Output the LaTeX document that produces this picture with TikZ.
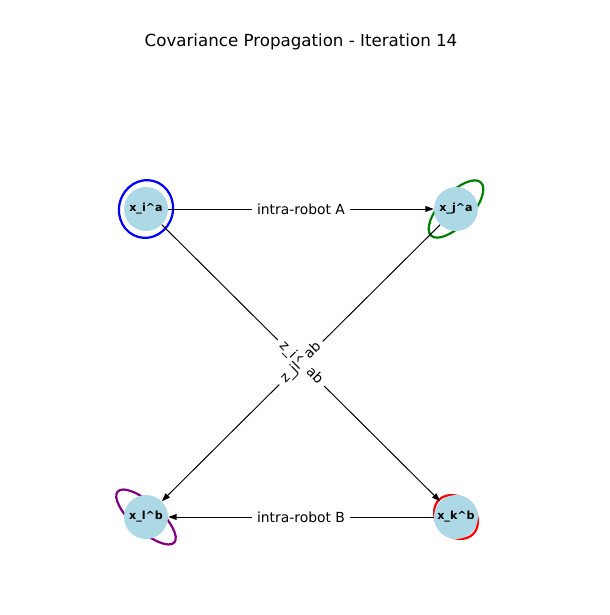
\documentclass[tikz,border=0pt]{standalone}
\usepackage{fontspec}
\setmainfont{DejaVu Sans}
\usetikzlibrary{
  arrows.meta,
  positioning
}
\definecolor{nodeblue}{RGB}{173,216,230}
\definecolor{ellgreen}{RGB}{0,128,0}
\definecolor{ellpurple}{RGB}{128,0,128}

\begin{document}
\begin{tikzpicture}[
  x=0.72pt, y=-0.72pt,
  pose-node/.style={
    circle,
    fill=nodeblue,
    minimum size=31.7pt,
    inner sep=0pt,
    font=\fontsize{8}{9}\selectfont\bfseries
  },
  cov-ellipse/.style={line width=1.6pt},
  meas-edge/.style={
    line width=0.7pt,
    -{Triangle[length=6pt,width=4.2pt]}
  },
  edge-label/.style={
    fill=white,
    inner xsep=3.6pt,
    inner ysep=2.5pt,
    font=\fontsize{10}{12}\selectfont
  }
]
\useasboundingbox (0,0) rectangle (610,615);

\coordinate (pos-i) at (146,209);
\coordinate (pos-j) at (456,209);
\coordinate (pos-k) at (456,517);
\coordinate (pos-l) at (146,517);

% covariance ellipses, below the nodes
\draw[cov-ellipse, blue, rotate=-15] (pos-i) ellipse [x radius=19.4pt, y radius=20.9pt];
\draw[cov-ellipse, ellgreen, rotate=47] (pos-j) ellipse [x radius=26.2pt, y radius=11.2pt];
\draw[cov-ellipse, red, rotate=-45] (pos-k) ellipse [x radius=17.4pt, y radius=14pt];
\draw[cov-ellipse, ellpurple, rotate=-42] (pos-l) ellipse [x radius=27.4pt, y radius=10pt];

\node [pose-node] (x-i-a) at (pos-i) {x\_i\^{}a};
\node [pose-node] (x-j-a) at (pos-j) {x\_j\^{}a};
\node [pose-node] (x-k-b) at (pos-k) {x\_k\^{}b};
\node [pose-node] (x-l-b) at (pos-l) {x\_l\^{}b};

\draw [meas-edge] (x-i-a) -- node [edge-label] {intra-robot A} (x-j-a);
\draw [meas-edge] (x-k-b) -- node [edge-label] {intra-robot B} (x-l-b);
\draw [meas-edge] (x-i-a) -- node [edge-label, sloped] {z\_ik\^{}ab} (x-k-b);
\draw [meas-edge] (x-j-a) -- node [edge-label, sloped] {z\_jl\^{}ab} (x-l-b);

\node [font=\fontsize{12}{14}\selectfont] (plot-title) at (301,42) {Covariance Propagation - Iteration 14};

\end{tikzpicture}
\end{document}
